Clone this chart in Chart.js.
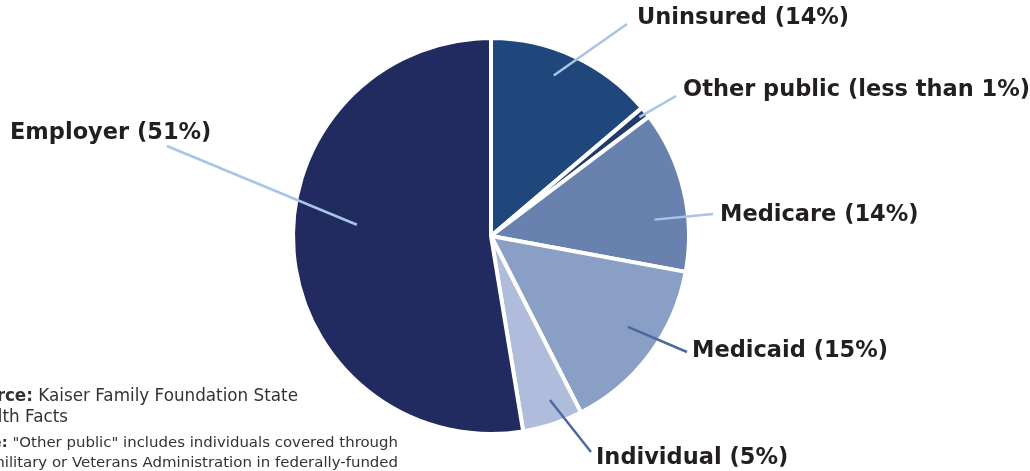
<!DOCTYPE html>
<html>
<head>
<meta charset="utf-8">
<script src="https://cdn.jsdelivr.net/npm/chart.js@4.4.0/dist/chart.umd.min.js"></script>
<style>
  html, body { margin: 0; padding: 0; background: #fff; }
  #wrap { width: 1030px; height: 471px; position: relative; }
</style>
</head>
<body>
<div id="wrap"><canvas id="myChart" width="1030" height="471"></canvas></div>
<script>
// coverage shares, clockwise from 12 o'clock
const categories = ['Uninsured', 'Other public', 'Medicare', 'Medicaid', 'Individual', 'Employer'];
const shares = [13.8, 0.9, 13.2, 14.6, 4.9, 52.6];
const labelTexts = ['Uninsured (14%)', 'Other public (less than 1%)', 'Medicare (14%)', 'Medicaid (15%)', 'Individual (5%)', 'Employer (51%)'];
const sliceColors = ['#1f477c', '#223a6c', '#6881ae', '#8a9fc6', '#afbcdb', '#212b60'];

// leader line: where it starts inside the slice (t along the arc, r as part of radius),
// where it ends and where the text sits (offsets from the pie centre)
const leaders = [
  { t: 0.43, r: 0.87, end: [136, -212], text: [146, -218], color: '#a8c4e6' },
  { t: 0.5,  r: 0.96, end: [185, -140], text: [192, -146], color: '#a8c4e6' },
  { t: 0.66, r: 0.83, end: [222, -22],  text: [229, -21],  color: '#a8c4e6' },
  { t: 0.44, r: 0.83, end: [196, 116],  text: [201, 115],  color: '#4d6aa0' },
  { t: 0.41, r: 0.88, end: [100, 216],  text: [105, 222],  color: '#4d6aa0' },
  { t: 0.55, r: 0.68, end: [-324, -90], text: [-481, -103], color: '#a8c4e6' }
];

const labelFont = 'bold 22.5px "DejaVu Sans"';

// pick a font size so a string spans a given width
function fitFont(c, text, width, weight) {
  c.font = weight + ' 20px "DejaVu Sans"';
  const s = 20 * width / c.measureText(text).width;
  return weight + ' ' + s.toFixed(2) + 'px "DejaVu Sans"';
}

const leaderPlugin = {
  id: 'leaders',
  afterDatasetsDraw(chart) {
    const c = chart.ctx;
    const meta = chart.getDatasetMeta(0);
    meta.data.forEach((arc, i) => {
      const p = arc.getProps(['x', 'y', 'startAngle', 'endAngle', 'outerRadius'], true);
      const L = leaders[i];
      const a = p.startAngle + L.t * (p.endAngle - p.startAngle);
      const sx = p.x + Math.cos(a) * p.outerRadius * L.r;
      const sy = p.y + Math.sin(a) * p.outerRadius * L.r;
      c.save();
      c.strokeStyle = L.color;
      c.lineWidth = 2.5;
      c.beginPath();
      c.moveTo(sx, sy);
      c.lineTo(p.x + L.end[0], p.y + L.end[1]);
      c.stroke();
      c.fillStyle = '#231f20';
      c.font = labelFont;
      c.textAlign = 'left';
      c.textBaseline = 'middle';
      c.fillText(labelTexts[i], p.x + L.text[0], p.y + L.text[1]);
      c.restore();
    });
  },
  afterDraw(chart) {
    // source note, cut off at the left edge like the reference
    const c = chart.ctx;
    c.save();
    c.fillStyle = '#333';
    c.textAlign = 'right';
    c.textBaseline = 'alphabetic';
    const srcFont = fitFont(c, 'Kaiser Family Foundation State', 260, 'normal');
    c.font = srcFont;
    c.fillText('Kaiser Family Foundation State', 298, 401);
    const w = c.measureText('Kaiser Family Foundation State ').width;
    c.font = srcFont.replace('normal', 'bold');
    c.fillText('Source:', 298 - w, 401);
    c.font = srcFont;
    c.fillText('Health Facts', 68, 422);
    const noteFont = fitFont(c, '"Other public" includes individuals covered through', 386, 'normal');
    c.font = noteFont;
    const nw = c.measureText(' "Other public" includes individuals covered through').width;
    c.fillText('"Other public" includes individuals covered through', 398, 447);
    c.font = noteFont.replace('normal', 'bold');
    c.fillText('Note:', 398 - nw, 447);
    c.font = noteFont;
    c.fillText('the military or Veterans Administration in federally-funded', 398, 467);
    c.restore();
  }
};

const ctx = document.getElementById('myChart').getContext('2d');
const myChart = new Chart(ctx, {
  type: 'pie',
  data: {
    labels: categories,
    datasets: [{
      data: shares,
      backgroundColor: sliceColors,
      borderColor: '#ffffff',
      borderWidth: 4,
      hoverOffset: 0
    }]
  },
  options: {
    responsive: false,
    animation: false,
    radius: 198,
    layout: { padding: { left: 0, right: 48, top: 1, bottom: 0 } },
    plugins: {
      legend: { display: false },
      tooltip: { enabled: false },
      title: { display: false }
    }
  },
  plugins: [leaderPlugin]
});
</script>
</body>
</html>
